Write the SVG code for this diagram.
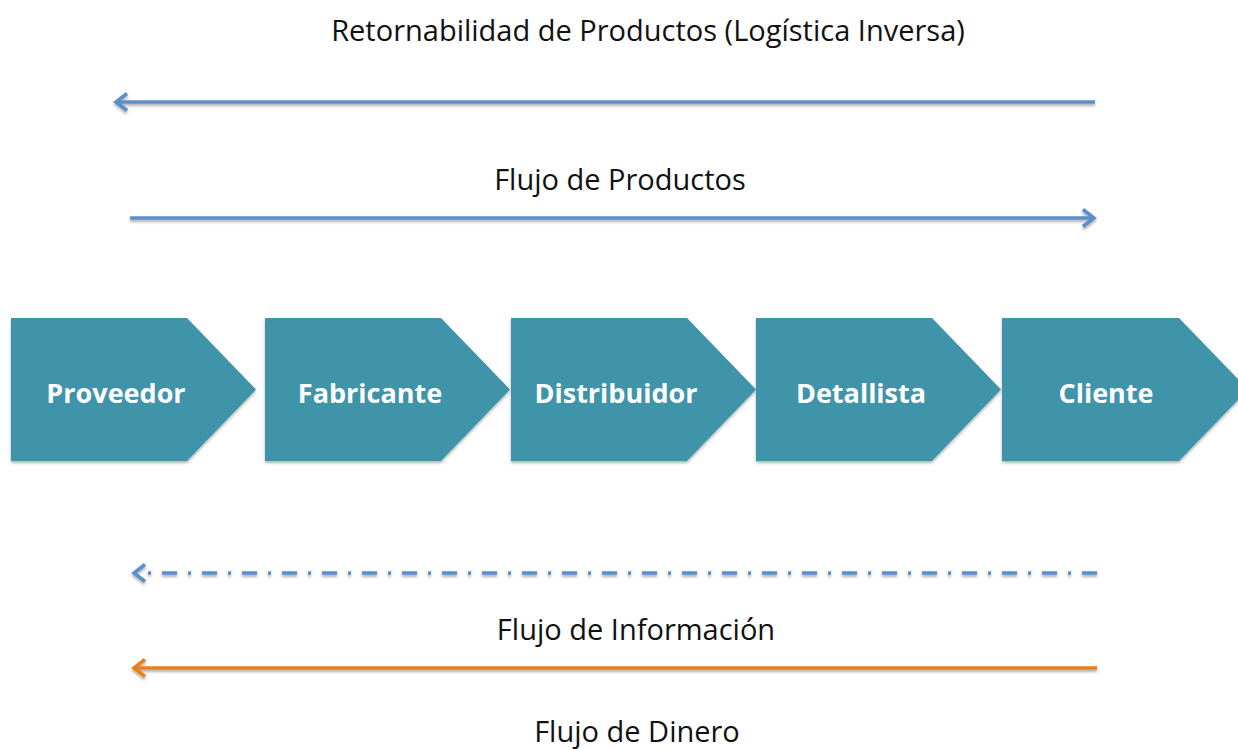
<svg xmlns="http://www.w3.org/2000/svg" width="1238" height="749" viewBox="0 0 1238 749">
<defs>
<filter id="sh" filterUnits="userSpaceOnUse" x="0" y="0" width="1238" height="749">
<feDropShadow dx="0" dy="2" stdDeviation="1.5" flood-color="#000" flood-opacity="0.35"/>
</filter>
<filter id="shp" x="-5%" y="-5%" width="110%" height="115%">
<feDropShadow dx="0" dy="2" stdDeviation="1.5" flood-color="#000" flood-opacity="0.3"/>
</filter>
<marker id="ab" markerUnits="userSpaceOnUse" viewBox="0 0 22 22" refX="19" refY="11" markerWidth="22" markerHeight="22" orient="auto">
<path d="M8,2.5 L19,11 L8,19.5" fill="none" stroke="#5B8ECA" stroke-width="3.5" stroke-linejoin="miter"/>
</marker>
<marker id="ao" markerUnits="userSpaceOnUse" viewBox="0 0 22 22" refX="19" refY="11" markerWidth="22" markerHeight="22" orient="auto">
<path d="M8,2.5 L19,11 L8,19.5" fill="none" stroke="#E8811C" stroke-width="3.5" stroke-linejoin="miter"/>
</marker>
</defs>
<style>
.lbl{font-family:"Open Sans","Liberation Sans",sans-serif;font-size:29px;fill:#111;text-anchor:middle}
.nt{font-family:"Open Sans","Liberation Sans",sans-serif;font-size:27px;font-weight:bold;fill:#fff;text-anchor:middle}
.pent{fill:#4094AA;filter:url(#shp)}
.blue{stroke:#5B8ECA;stroke-width:3.5;fill:none;filter:url(#sh)}
.org{stroke:#E8811C;stroke-width:3.5;fill:none;filter:url(#sh)}
</style>
<rect width="1238" height="749" fill="#fff"/>
<g id="connectors">
<path class="blue" d="M1095,102 L116,102" marker-end="url(#ab)"/>
<path class="blue" d="M130,218 L1094,218" marker-end="url(#ab)"/>
<path class="blue" d="M1097,573 L134,573" stroke-dasharray="15 11 3 11" marker-end="url(#ab)"/>
<path class="org" d="M1097,668 L134,668" marker-end="url(#ao)"/>
</g>
<g id="labels">
<text class="lbl" x="648" y="41">Retornabilidad de Productos (Logística Inversa)</text>
<text class="lbl" x="620" y="190">Flujo de Productos</text>
<text class="lbl" x="636" y="640">Flujo de Información</text>
<text class="lbl" x="637" y="742">Flujo de Dinero</text>
</g>
<g id="n1"><path class="pent" d="M11,318 H187 L256,389.5 L187,461 H11 Z"/><text class="nt" x="116" y="403">Proveedor</text></g>
<g id="n2"><path class="pent" d="M265,318 H441 L510,389.5 L441,461 H265 Z"/><text class="nt" x="370" y="403">Fabricante</text></g>
<g id="n3"><path class="pent" d="M511,318 H687 L756,389.5 L687,461 H511 Z"/><text class="nt" x="616" y="403">Distribuidor</text></g>
<g id="n4"><path class="pent" d="M756,318 H932 L1001,389.5 L932,461 H756 Z"/><text class="nt" x="861" y="403">Detallista</text></g>
<g id="n5"><path class="pent" d="M1002,318 H1179 L1248,389.5 L1179,461 H1002 Z"/><text class="nt" x="1106" y="403">Cliente</text></g>
</svg>
